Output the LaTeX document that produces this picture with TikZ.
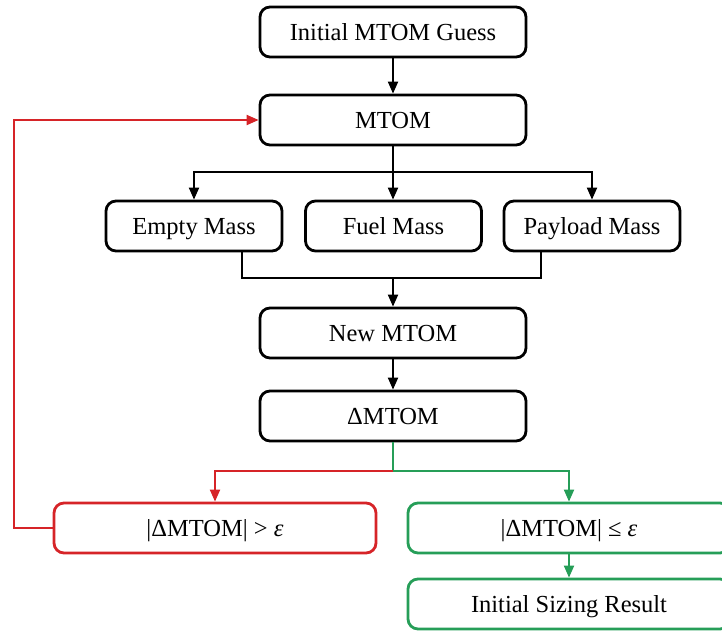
\documentclass[tikz,border=0pt]{standalone}
\usepackage{fontspec}
\setmainfont{Liberation Serif}
\usetikzlibrary{arrows.meta,calc}
\definecolor{loopred}{RGB}{214,36,40}
\definecolor{okgreen}{RGB}{38,158,88}
\begin{document}
\begin{tikzpicture}[x=1pt,y=-1pt,
  box/.style={draw=black,line width=2.8pt,rounded corners=10pt,fill=white,
    inner sep=0pt,text height=19pt,text depth=3pt,
    font=\fontsize{24.5}{28}\selectfont},
  mainbox/.style={box,minimum width=266pt,minimum height=50pt},
  massbox/.style={box,minimum width=176pt,minimum height=50pt},
  widebox/.style={box,minimum width=322pt,minimum height=50pt},
  link/.style={line width=2pt,-{Triangle[length=12pt,width=10pt]}},
  joinline/.style={line width=2pt}]
\useasboundingbox (0,0) rectangle (722,632);

% main column
\node[mainbox] (guess) at (393,32) {Initial MTOM Guess};
\node[mainbox] (mtom) at (393,120) {MTOM};
\node[massbox] (empty) at (194,226) {Empty Mass};
\node[massbox] (fuel) at (393.5,226) {Fuel Mass};
\node[massbox] (payload) at (592,226) {Payload Mass};
\node[mainbox] (newm) at (393,333) {New MTOM};
\node[mainbox] (dm) at (393,416) {ΔMTOM};

% convergence check
\node[widebox,draw=loopred] (gt) at (215,528) {|ΔMTOM| > \textit{ε}};
\node[widebox,draw=okgreen] (le) at (569,528) {|ΔMTOM| ≤ \textit{ε}};
\node[widebox,draw=okgreen] (res) at (569,604) {Initial Sizing Result};

% helper points
\coordinate (split) at (393,172);
\coordinate (mergeL) at (242,278);
\coordinate (mergeR) at (541,278);
\coordinate (merge) at (393,278);
\coordinate (fork) at (393,471);
\coordinate (back) at (14,0);

% mass breakdown
\draw[link] (guess) -- (mtom);
\draw[joinline] (mtom.south) -- (split);
\draw[link] (split) -| (empty.north);
\draw[link] (split) -- (fuel.north -| split);
\draw[link] (split) -| (payload.north);
\draw[joinline] (empty.south -| mergeL) |- (mergeR) -- (payload.south -| mergeR);
\draw[link] (merge) -- (newm.north);
\draw[link] (newm) -- (dm);

% branches
\draw[joinline,okgreen] (dm.south) -- (fork);
\draw[link,loopred] (fork) -| (gt.north);
\draw[link,okgreen] (fork) -| (le.north);
\draw[link,okgreen] (le) -- (res);

% iteration loop
\draw[link,loopred] (gt.west) -- (gt.west -| back) |- (mtom.west);
\end{tikzpicture}
\end{document}
